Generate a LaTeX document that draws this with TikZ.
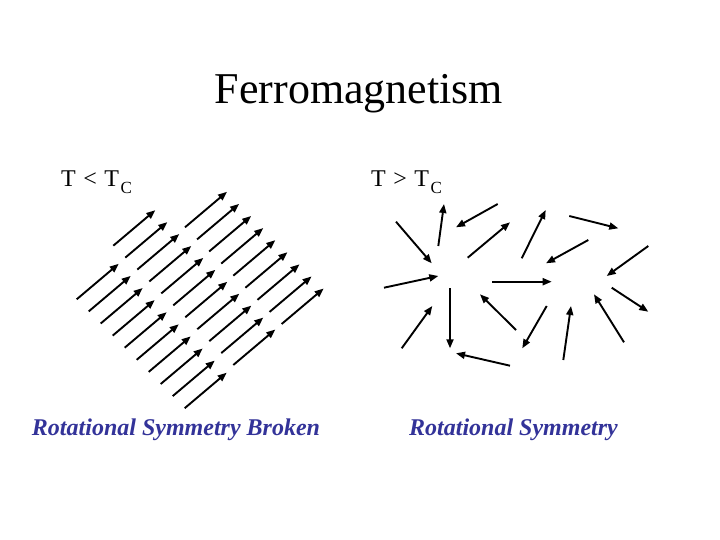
\documentclass[tikz,border=0pt]{standalone}
\usepackage{fontspec}
\setmainfont{Liberation Serif}
\usetikzlibrary{arrows.meta}
\definecolor{labelblue}{RGB}{51,51,153}
\begin{document}
\begin{tikzpicture}[x=1pt,y=-1pt,
  spin/.style={line width=1.9pt,-{Triangle[length=9pt,width=7pt]}},
  titletext/.style={anchor=base,inner sep=0pt,font=\fontsize{44}{50}\selectfont},
  temptext/.style={anchor=base west,inner sep=0pt,font=\fontsize{24}{28}\selectfont},
  captext/.style={anchor=base,inner sep=0pt,text=labelblue,font=\fontsize{24}{28}\selectfont\bfseries\itshape}]
\useasboundingbox (0,0) rectangle (720,540);
\fill[white] (0,0) rectangle (720,540);
\node[titletext] (title) at (359,103.3) {Ferromagnetism};
\node[temptext] (tless) at (61,186.7) {T \kern1.5pt< \kern1.5ptT\kern1.5pt\raisebox{-6.5pt}{\fontsize{17}{19}\selectfont C}};
\node[temptext] (tmore) at (371,186.7) {T \kern1.5pt> \kern1.5ptT\kern1.5pt\raisebox{-6.5pt}{\fontsize{17}{19}\selectfont C}};
\node[captext] (broken) at (176,435) {Rotational Symmetry Broken};
\node[captext] (sym) at (513.5,435) {Rotational Symmetry};
% ordered spins
\foreach \i in {0,...,9}
  \draw[spin] (76.7+12*\i,299.3+12.1*\i) -- ++(42,-35.5);
\foreach \i in {0,...,10}
  \draw[spin] (113.3+12*\i,245.7+11.93*\i) -- ++(42,-35.5);
\foreach \i in {0,...,8}
  \draw[spin] (185+12.08*\i,227.3+12.09*\i) -- ++(42,-35.5);
% disordered spins
\foreach \ax/\ay/\bx/\by in {
  438.3/246/444/204,
  497.7/204/456/227.3,
  396/221.7/431.7/263.3,
  467.7/257.7/510/222.3,
  521.7/258.3/545.7/210,
  569.3/216/618.3/228.3,
  588.3/240/546/263.3,
  648.3/246/606.7/276,
  384/287.7/438.3/276,
  492.3/281.7/551.7/281.7,
  450/288.3/450/348.3,
  401.7/348.3/432.3/306,
  516/330/480/294.3,
  546.7/306/522.3/348.3,
  611.7/287.7/648.3/311.7,
  624/342.3/594/294.3,
  563.3/360/571/306,
  510/365.7/456/353.3}
  \draw[spin] (\ax,\ay) -- (\bx,\by);
\end{tikzpicture}
\end{document}
